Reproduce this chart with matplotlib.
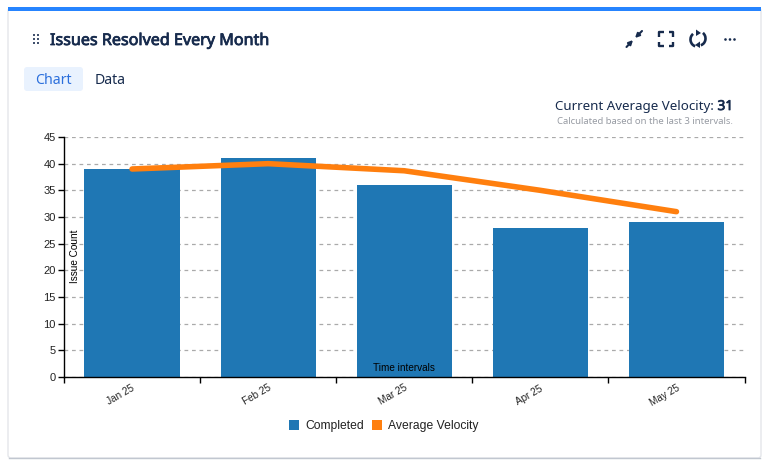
import matplotlib
matplotlib.use("Agg")
import matplotlib.pyplot as plt
import matplotlib.patheffects as pe
from matplotlib.patches import FancyBboxPatch, Rectangle, Circle, Arc, Polygon

months = ["Jan 25", "Feb 25", "Mar 25", "Apr 25", "May 25"]
completed = [39, 41, 36, 28, 29]
velocity = [39, 40, 38.67, 35, 31]
y_ticks = [0, 5, 10, 15, 20, 25, 30, 35, 40, 45]

W, H = 769, 462
fig = plt.figure(figsize=(W / 100, H / 100), dpi=100, facecolor="white")

# page chrome in pixel coordinates
ui = fig.add_axes([0, 0, 1, 1], zorder=0)
ui.set_xlim(0, W); ui.set_ylim(H, 0); ui.axis("off")
ui.add_patch(FancyBboxPatch((8, 8), 753, 450, boxstyle="round,pad=0,rounding_size=3",
                            fc="white", ec="#e4e6ea", lw=1))
ui.plot([9, 760], [458, 458], color="#c1c7d0", lw=1)
ui.add_patch(Rectangle((8, 7), 753, 4, fc="#2684ff", ec="none"))
navy = "#172b4d"
UI = "Noto Sans"
def heavy(t, w):
    t.set_path_effects([pe.withStroke(linewidth=w, foreground=t.get_color())])
for x in (34, 38):
    for y in (35, 39, 43):
        ui.add_patch(Rectangle((x - 1, y - 1), 2, 2, fc="#42526e", ec="none"))
heavy(ui.text(50, 41, "Issues Resolved Every Month", family=UI, fontsize=11.6,
              color=navy, va="center", ha="left"), 0.55)
ui.add_patch(FancyBboxPatch((24, 67), 59, 24, boxstyle="round,pad=0,rounding_size=3",
                            fc="#e9f2fe", ec="none"))
ui.text(53.5, 80.5, "Chart", family=UI, fontsize=10.2, color="#2b6fdc", va="center", ha="center")
ui.text(110.5, 80.5, "Data", family=UI, fontsize=10.2, color=navy, va="center", ha="center")
ui.text(714, 106.5, "Current Average Velocity:", family=UI, fontsize=9.6, color=navy,
        va="center", ha="right")
heavy(ui.text(733, 106.5, "31", family=UI, fontsize=9.8, color=navy, va="center", ha="right"), 0.55)
ui.text(733, 121, "Calculated based on the last 3 intervals.", family=UI, fontsize=6.85,
        color="#979ba3", va="center", ha="right")

# toolbar icons
ic = dict(color=navy, lw=1.7, solid_capstyle="butt")
arrow = dict(arrowstyle="-|>", color=navy, lw=1.5, mutation_scale=6, shrinkA=0, shrinkB=0)
ui.annotate("", (633, 40), (626.5, 47), arrowprops=arrow)
ui.annotate("", (635, 38), (642, 31), arrowprops=arrow)
for sx, sy in ((659, 32), (673, 32), (659, 46), (673, 46)):
    dx = 4.5 if sx == 659 else -4.5
    dy = 4.5 if sy == 32 else -4.5
    ui.plot([sx, sx, sx + dx], [sy + dy, sy, sy], **ic)
ui.add_patch(Arc((697, 39.5), 13, 14, theta1=105, theta2=235, color=navy, lw=1.9))
ui.add_patch(Arc((699, 38.5), 13, 14, theta1=-55, theta2=75, color=navy, lw=1.9))
ui.add_patch(Polygon([(696, 29.5), (701, 33), (696, 36)], fc=navy, ec="none"))
ui.add_patch(Polygon([(700, 41.5), (695, 45), (700, 48)], fc=navy, ec="none"))
for x in (725.5, 730, 734.5):
    ui.add_patch(Circle((x, 39.5), 1.3, fc=navy, ec="none"))

# chart
L, R, T, B = 64, 744.5, 137, 377
ax = fig.add_axes([L / W, 1 - B / H, (R - L) / W, (B - T) / H], zorder=1)
ax.patch.set_alpha(0)
pos = list(range(len(months)))
ax.bar(pos, completed, width=0.7, color="#1f77b4", label="Completed", zorder=2)
ax.plot(pos, velocity, color="#ff7f0e", lw=4.0, label="Average Velocity", zorder=3,
        solid_capstyle="round", solid_joinstyle="round")
ax.set_xlim(-0.5, 4.5)
ax.set_ylim(0, 45)
ax.set_yticks(y_ticks)
ax.set_xticks([p - 0.5 for p in pos] + [4.5], labels=[])
ax.tick_params(axis="both", length=4.5, width=1.0, color="black")
ax.tick_params(axis="y", labelsize=8, labelcolor="#222222", pad=1.5)
for tl in ax.get_yticklabels():
    tl.set_family("Liberation Sans")
ax.grid(axis="y", color="#aaaaaa", ls=(0, (3, 3)), lw=0.9, zorder=1)
ax.set_axisbelow(True)
for s in ("top", "right"):
    ax.spines[s].set_visible(False)
for s in ("left", "bottom"):
    ax.spines[s].set_linewidth(1.0)
for p, m in zip(pos, months):
    ax.annotate(m, (p, 0), xytext=(-8.3, -13), textcoords="offset points", rotation=30,
                ha="center", va="center", rotation_mode="anchor", fontsize=7.2,
                family="Liberation Sans", color="#222222")
ax.text(2, 1.7, "Time intervals", ha="center", va="center", fontsize=7.2,
        family="Liberation Sans", color="black", zorder=5)
fig.text(74.5 / W, 1 - 256 / H, "Issue Count", rotation=90, ha="center", va="center",
         fontsize=7.2, family="Liberation Sans", color="black", zorder=5)

# legend
ui2 = fig.add_axes([0, 0, 1, 1], zorder=2)
ui2.set_xlim(0, W); ui2.set_ylim(H, 0); ui2.axis("off")
ui2.add_patch(Rectangle((289, 420), 10, 10, fc="#1f77b4", ec="none"))
ui2.text(305.5, 426, "Completed", fontsize=8.7, family="Liberation Sans", color="#222222", va="center")
ui2.add_patch(Rectangle((372, 420), 10, 10, fc="#ff7f0e", ec="none"))
ui2.text(388.5, 426, "Average Velocity", fontsize=8.7, family="Liberation Sans", color="#222222", va="center")

fig.savefig("out.png", dpi=100)
